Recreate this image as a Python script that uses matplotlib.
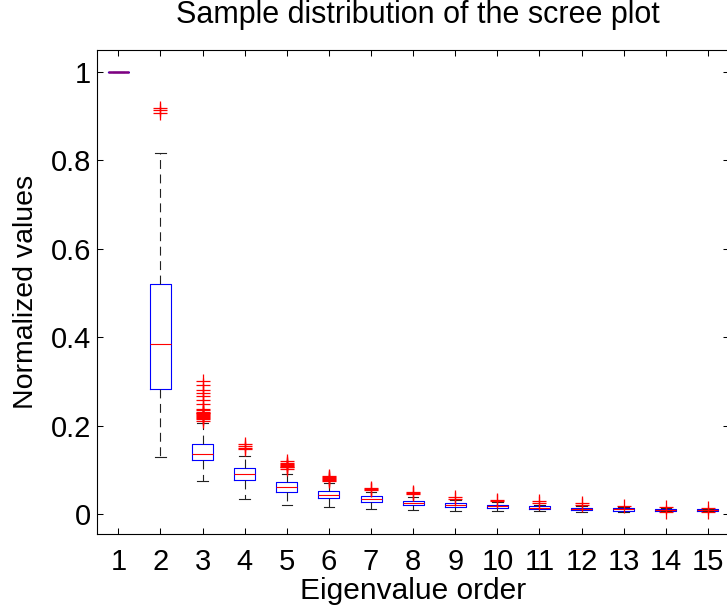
import matplotlib
matplotlib.use("Agg")
import matplotlib.pyplot as plt

plt.rcParams['font.family'] = ['Liberation Sans', 'DejaVu Sans']

# ---- data ----
orders = list(range(1, 16))
q1 = [1.0, 0.284, 0.122, 0.077, 0.0513, 0.0377, 0.0287, 0.021, 0.0166, 0.0143, 0.0128, 0.0106, 0.0083, 0.0075, 0.0075]
med = [1.0, 0.385, 0.137, 0.091, 0.0618, 0.0445, 0.0347, 0.0264, 0.022, 0.018, 0.015, 0.0128, 0.0113, 0.0106, 0.009]
q3 = [1.0, 0.520, 0.159, 0.1056, 0.0724, 0.052, 0.0407, 0.031, 0.0264, 0.022, 0.018, 0.015, 0.0143, 0.0128, 0.0113]
whislo = [1.0, 0.1305, 0.0747, 0.0355, 0.0204, 0.0166, 0.012, 0.009, 0.0083, 0.0068, 0.0075, 0.006, 0.0045, 0.0065, 0.0065]
whishi = [1.0, 0.817, 0.207, 0.131, 0.092, 0.071, 0.050, 0.040, 0.032, 0.027, 0.022, 0.018, 0.016, 0.014, 0.013]
outliers = [
    [],
    [0.908, 0.914, 0.918],
    [0.212, 0.215, 0.218, 0.220, 0.222, 0.224, 0.226, 0.228, 0.230, 0.232, 0.235, 0.238,
     0.250, 0.258, 0.268, 0.275, 0.282, 0.293, 0.302],
    [0.148, 0.151, 0.155, 0.159],
    [0.103, 0.106, 0.108, 0.110, 0.112, 0.114, 0.117, 0.120],
    [0.076, 0.078, 0.080, 0.082, 0.084, 0.086],
    [0.055, 0.057, 0.0595],
    [0.047, 0.049, 0.0505],
    [0.0355, 0.038],
    [0.031, 0.033],
    [0.0256, 0.030],
    [0.0205, 0.0245],
    [0.019],
    [0.0166, 0.0057],
    [0.0143, 0.0057],
]
xtick_labels = [str(o) for o in orders]
ytick_values = [0, 0.2, 0.4, 0.6, 0.8, 1.0]
ytick_labels = ['0', '0.2', '0.4', '0.6', '0.8', '1']

stats = []
for i in range(len(orders)):
    stats.append(dict(med=med[i], q1=q1[i], q3=q3[i], whislo=whislo[i],
                      whishi=whishi[i], fliers=outliers[i], label=xtick_labels[i]))

fig = plt.figure(figsize=(7.27, 6.09), dpi=100)
ax = fig.add_axes([97.3 / 727, 75.5 / 609, (729 - 97.3) / 727, 483.5 / 609])

bp = ax.bxp(stats, positions=orders, widths=0.5, patch_artist=False,
            boxprops=dict(color='blue', linewidth=0.8),
            medianprops=dict(color='red', linewidth=0.8),
            whiskerprops=dict(color='#222222', linewidth=0.8, linestyle=(0, (8, 5))),
            capprops=dict(color='#222222', linewidth=0.8),
            flierprops=dict(marker='+', markeredgecolor='red', markersize=9.5,
                            markeredgewidth=0.9, linestyle='none'))
bp['medians'][0].set_color('#800080')
bp['medians'][0].set_linewidth(1.8)

ax.set_xlim(0.5, 15.5)
ax.set_ylim(-0.0434, 1.0497)
ax.set_xticks(orders)
ax.set_xticklabels(xtick_labels)
ax.set_yticks(ytick_values)
ax.set_yticklabels(ytick_labels)
ax.tick_params(axis='both', direction='in', top=True, right=True, length=4.5,
               width=0.75, labelsize=21)
ax.tick_params(axis='x', pad=10.5)
ax.tick_params(axis='y', pad=4.7)

ax.set_xlabel('Eigenvalue order', fontsize=21.5)
ax.xaxis.label.set_verticalalignment('baseline')
ax.xaxis.set_label_coords(0.5, -(599 - 533.5) / 483.5)

ax.set_ylabel('Normalized values', fontsize=20.5)
ax.yaxis.label.set_verticalalignment('baseline')
ax.yaxis.set_label_coords(-(97.3 - 33) / 631.7, 0.5)

ax.set_title('Sample distribution of the scree plot', fontsize=22,
             x=0.508, y=1 + (50 - 23.3) / 483.5, pad=0)

fig.savefig('out.png', dpi=100)
